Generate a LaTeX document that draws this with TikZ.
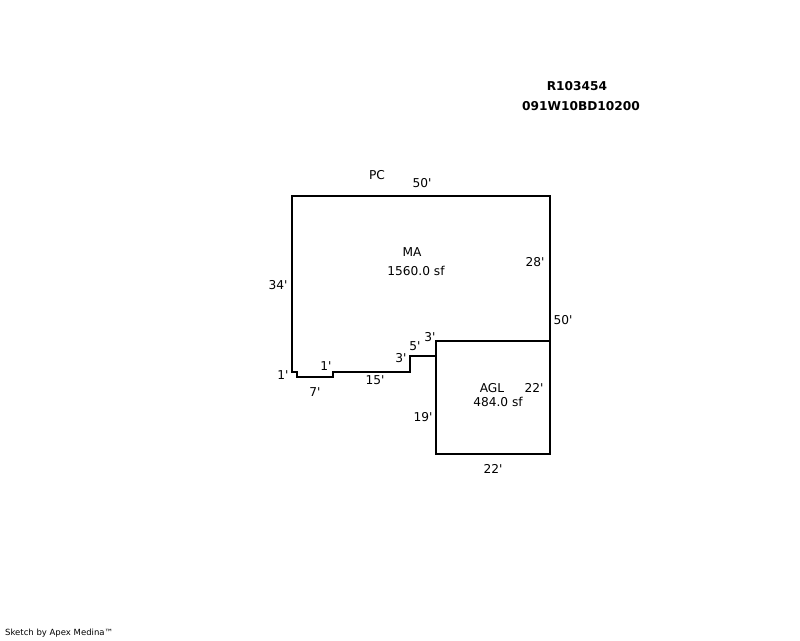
\documentclass[tikz,border=0pt]{standalone}
\usepackage{fontspec}
\newfontfamily\planfont{DejaVu Sans}
\tikzset{
  wall/.style={draw=black,line width=2pt,line join=miter},
  dimlabel/.style={font=\planfont\fontsize{12.2}{14}\selectfont,inner sep=0pt},
  idlabel/.style={font=\planfont\fontsize{12.2}{14}\selectfont\bfseries,inner sep=0pt},
  creditlabel/.style={font=\planfont\fontsize{8.5}{10}\selectfont,inner sep=0pt}
}

\begin{document}
\begin{tikzpicture}[x=1pt,y=-1pt]
\useasboundingbox (0,0) rectangle (800,640);
\fill[white] (0,0) rectangle (800,640);

% Parcel ids
\node[idlabel] (parcel) at (577,86) {R103454};
\node[idlabel] (tract) at (581,106) {091W10BD10200};

% MA outline
\draw[wall] (292,196) -- (550,196) -- (550,341) -- (436,341) -- (436,356) -- (410,356) -- (410,372)
  -- (333,372) -- (333,377) -- (297,377) -- (297,372) -- (292,372) -- cycle;

% AGL outline
\draw[wall] (436,341) -- (550,341) -- (550,454) -- (436,454) -- cycle;

% Area labels
\node[dimlabel] (pc) at (377,175) {PC};
\node[dimlabel] (ma) at (412,252) {MA};
\node[dimlabel] (maarea) at (416,271) {1560.0 sf};
\node[dimlabel] (agl) at (492,388) {AGL};
\node[dimlabel] (aglarea) at (498,402) {484.0 sf};

% Dimensions
\node[dimlabel] (dtop) at (422,183) {50'};
\node[dimlabel] (dleft) at (278,285) {34'};
\node[dimlabel] (dmaright) at (535,262) {28'};
\node[dimlabel] (dright) at (563,320) {50'};
\node[dimlabel] (dthreea) at (430,337) {3'};
\node[dimlabel] (dfive) at (415,346) {5'};
\node[dimlabel] (dthreeb) at (401,358) {3'};
\node[dimlabel] (doneb) at (326,366) {1'};
\node[dimlabel] (donea) at (283,375) {1'};
\node[dimlabel] (dfifteen) at (375,380) {15'};
\node[dimlabel] (dseven) at (315,392) {7'};
\node[dimlabel] (daglright) at (534,388) {22'};
\node[dimlabel] (dagll) at (423,417) {19'};
\node[dimlabel] (daglb) at (493,469) {22'};

% Credit
\node[creditlabel,anchor=west] (credit) at (5,633) {Sketch by Apex Medina™};

\end{tikzpicture}
\end{document}
